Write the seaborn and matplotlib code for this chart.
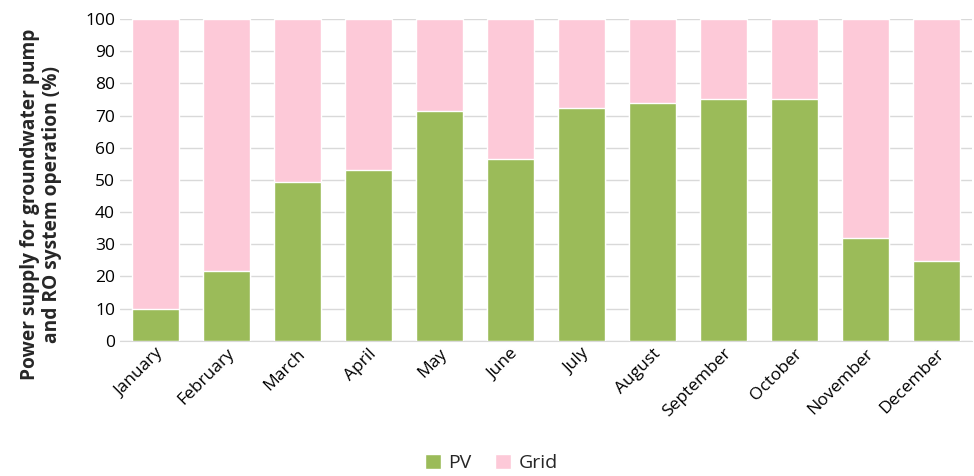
import pandas as pd
import matplotlib.pyplot as plt
import seaborn as sns
import numpy as np

months = ['January', 'February', 'March', 'April', 'May', 'June', 'July',
          'August', 'September', 'October', 'November', 'December']
pv = [10.0, 21.6, 49.3, 53.2, 71.5, 56.6, 72.5, 74.0, 75.1, 75.1, 32.1, 24.7]
grid = [100 - v for v in pv]

df = pd.DataFrame({'month': months, 'PV': pv, 'Grid': grid})
df['total'] = df['PV'] + df['Grid']

sns.set_style('white')
plt.rcParams['font.family'] = ['Open Sans', 'DejaVu Sans']

fig, ax = plt.subplots(figsize=(9.74, 4.76), dpi=100)
fig.subplots_adjust(left=0.123, right=0.998, bottom=0.284, top=0.96)

sns.barplot(data=df, x='month', y='total', color='#FDC9D8', width=0.67,
            saturation=1, ax=ax, label='Grid', zorder=3)
sns.barplot(data=df, x='month', y='PV', color='#9BBB59', width=0.67,
            saturation=1, ax=ax, label='PV', zorder=4)

ax.set_ylim(0, 100)
ax.set_yticks(np.arange(0, 101, 10))
ax.set_xlim(-0.5, 11.5)
ax.yaxis.grid(True, color='#D9D9D9', linewidth=1, zorder=0)
ax.set_axisbelow(True)
for s in ['left', 'right', 'top']:
    ax.spines[s].set_visible(False)
ax.spines['bottom'].set_color('#D9D9D9')
ax.tick_params(axis='both', length=0, labelsize=12.5, colors='black')
plt.setp(ax.get_xticklabels(), rotation=45, ha='right', rotation_mode='anchor')

ax.set_xlabel('')
ax.set_ylabel('Power supply for groundwater pump\nand RO system operation (%)',
              fontsize=13.8, fontweight='bold', linespacing=1.1)
ax.yaxis.set_label_coords(-0.068, 0.425)

handles, labels = ax.get_legend_handles_labels()
order = [labels.index('PV'), labels.index('Grid')]
ax.legend([handles[i] for i in order], [labels[i] for i in order],
          loc='center', bbox_to_anchor=(0.436, -0.38), ncol=2,
          frameon=False, fontsize=14, handlelength=0.8, handleheight=0.8,
          columnspacing=1.2, handletextpad=0.4)

plt.savefig('out.png', dpi=100)
